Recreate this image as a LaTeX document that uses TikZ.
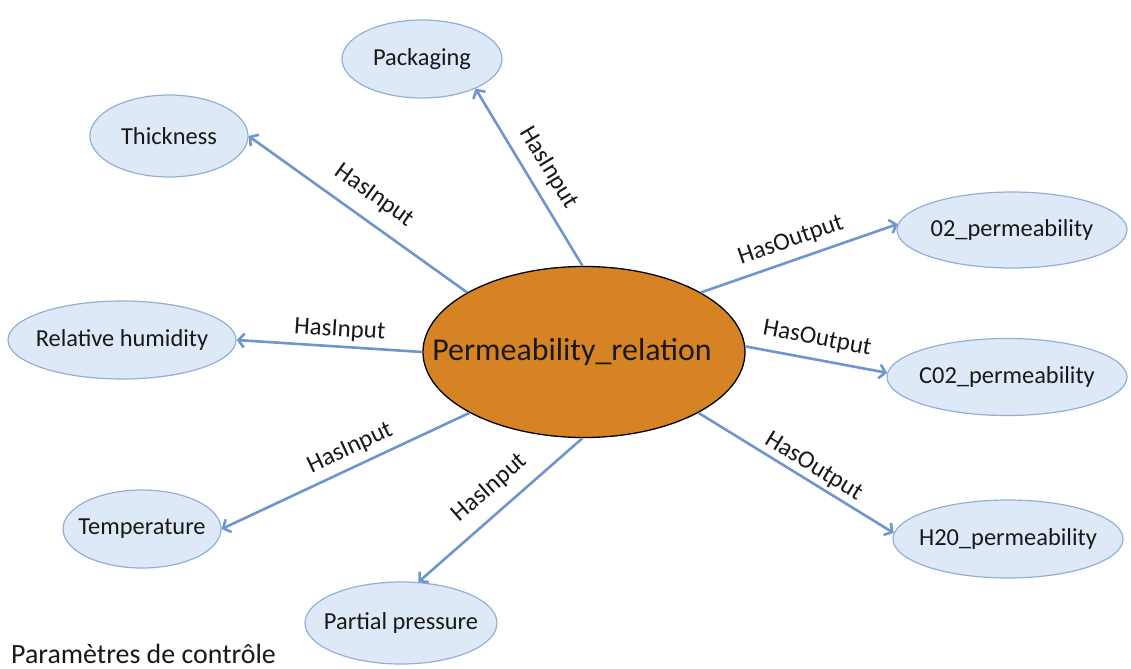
\documentclass[tikz,border=0pt]{standalone}
\usepackage{fontspec}
\setmainfont{Carlito}
\usetikzlibrary{arrows.meta,shapes.geometric}
\definecolor{leaffill}{RGB}{221,233,246}
\definecolor{leafline}{RGB}{146,176,214}
\definecolor{hubfill}{RGB}{214,131,38}
\definecolor{arrowc}{RGB}{110,149,204}
\definecolor{txt}{RGB}{25,25,25}
\newcommand\zw[1]{\makebox[0pt]{#1}}
\begin{document}
\begin{tikzpicture}[x=1bp,y=-1bp,
  leaf/.style={ellipse, draw=leafline, fill=leaffill, line width=1.2bp, inner sep=0pt,
    font=\fontsize{24.5}{29}\selectfont, text=txt},
  hub/.style={ellipse, draw=black, fill=hubfill, line width=1.3bp, inner sep=0pt,
    minimum width=322bp, minimum height=171bp, font=\fontsize{32}{38}\selectfont, text=txt},
  rel/.style={draw=arrowc, line width=2.6bp, -{Straight Barb[length=6bp,width=14bp]}},
  lbl/.style={font=\fontsize{25}{30}\selectfont, sloped, inner sep=0pt, text=txt}
]
\useasboundingbox (0,0) rectangle (1131,669);

\node[hub] (c) at (584,352) {\zw{Permeability\_relation\hspace*{24bp}}};

\node[leaf, minimum width=160bp, minimum height=78bp] (pack) at (422,59) {\zw{Packaging}};
\node[leaf, minimum width=158bp, minimum height=82bp] (thick) at (169,136) {\zw{Thickness}};
\node[leaf, minimum width=228bp, minimum height=78bp] (rh) at (122,340) {\zw{Relative humidity}};
\node[leaf, minimum width=158bp, minimum height=78bp] (temp) at (142,529) {\zw{Temperature}};
\node[leaf, minimum width=192bp, minimum height=82bp] (pp) at (401,623) {\zw{Partial pressure}};
\node[leaf, minimum width=230bp, minimum height=76bp] (o2) at (1012,230) {\zw{02\_permeability}};
\node[leaf, minimum width=240bp, minimum height=77bp] (co2) at (1007,377) {\zw{C02\_permeability}};
\node[leaf, minimum width=230bp, minimum height=78bp] (h2o) at (1008,539) {\zw{H20\_permeability}};

\node[anchor=base west, font=\fontsize{28}{33}\selectfont, text=txt, inner sep=0pt] (ctrl) at (11,663) {Paramètres de contrôle};

\draw[rel] (c.91) -- node[lbl, pos=0.49, above=10bp] {HasInput} (pack.-29);
\draw[rel] (c.153) -- node[lbl, pos=0.49, above=13bp] {HasInput} (thick.east);
\draw[rel] (c.180) -- node[lbl, pos=0.45, above=5bp] {HasInput} (rh.east);
\draw[rel] (c.208) -- node[lbl, pos=0.45, above=7bp] {HasInput} (temp.east);
\draw[rel] (c.269) -- node[lbl, pos=0.47, above=12bp] {HasInput} (pp.67);
\draw[rel] (c.27) -- node[lbl, pos=0.49, above=8bp] {HasOutput} (o2.177);
\draw[rel] (c.2) -- node[lbl, pos=0.48, above=9bp] {HasOutput} (co2.178);
\draw[rel] (c.-28) -- node[lbl, pos=0.55, above=3bp] {HasOutput} (h2o.177);
\end{tikzpicture}
\end{document}
